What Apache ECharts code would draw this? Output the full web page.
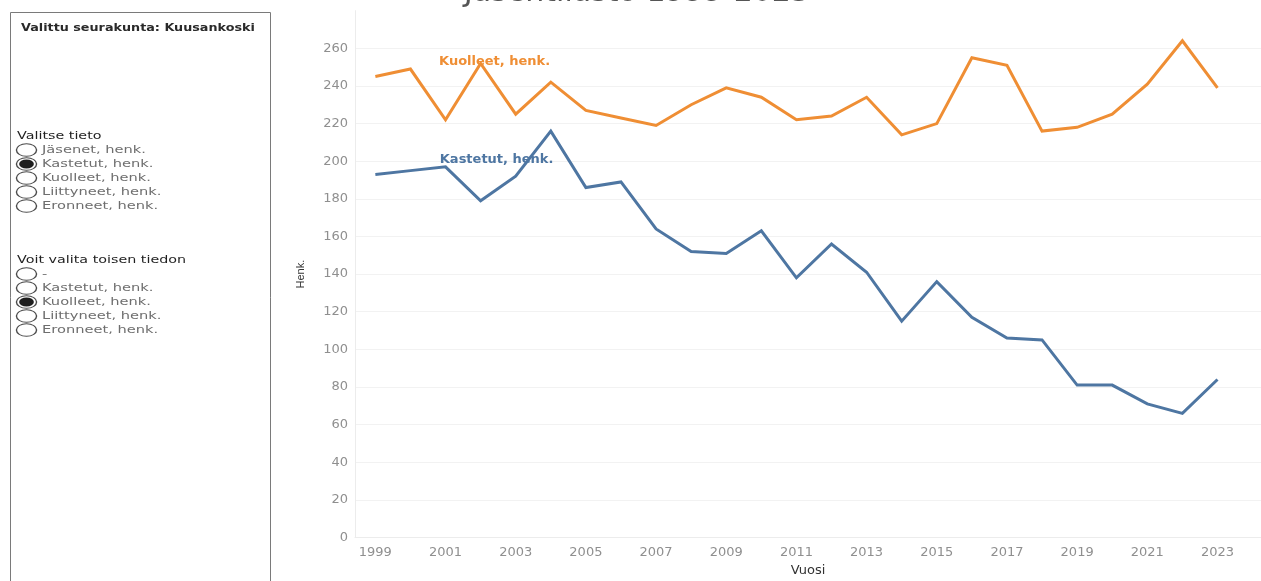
<!DOCTYPE html>
<html><head><meta charset="utf-8">
<script src="https://cdn.jsdelivr.net/npm/echarts@6/dist/echarts.min.js"></script>
<style>html,body{margin:0;padding:0;background:#fff;overflow:hidden}#c{width:1261px;height:581px}</style>
</head><body><div id="c"></div>
<script>
// ---- data ----
const years = [1999,2000,2001,2002,2003,2004,2005,2006,2007,2008,2009,2010,2011,2012,2013,2014,2015,2016,2017,2018,2019,2020,2021,2022,2023];
const kuolleet = [245,249,222,252,225,242,227,223,219,230,239,234,222,224,234,214,220,255,251,216,218,225,241,264,239];
const kastetut = [193,195,197,179,192,216,186,189,164,152,151,163,138,156,141,115,136,117,106,105,81,81,71,66,84];
const xTickLabels = [1999,2001,2003,2005,2007,2009,2011,2013,2015,2017,2019,2021,2023];
const seriesNames = ['Kuolleet, henk.', 'Kastetut, henk.'];
const titleText = 'Jäsentilasto 1999-2023';
const panelTitle = 'Valittu seurakunta: Kuusankoski';
const group1Title = 'Valitse tieto';
const group1 = ['Jäsenet, henk.','Kastetut, henk.','Kuolleet, henk.','Liittyneet, henk.','Eronneet, henk.'];
const group1Sel = 1;
const group2Title = 'Voit valita toisen tiedon';
const group2 = ['-','Kastetut, henk.','Kuolleet, henk.','Liittyneet, henk.','Eronneet, henk.'];
const group2Sel = 2;
const labelIndex = 3; // year 2002 anchors the line labels

// ---- styles ----
const ORANGE = '#ef8e34';
const BLUE = '#4e76a2';
const FONT = 'DejaVu Sans';

const chart = echarts.init(document.getElementById('c'), null, {renderer: 'canvas'});

function radioGroup(titleY, items, sel, title) {
  const els = [];
  els.push({type:'text', x:17, y:titleY, scaleX:1.3, style:{text:title, font:'11px "'+FONT+'"', fill:'#1f1f1f', verticalAlign:'middle', textAlign:'left'}});
  items.forEach((t, i) => {
    const cy = titleY + 14 + i*14;
    els.push({type:'circle', x:26.5, y:cy, scaleX:1.6, shape:{cx:0, cy:0, r:6.3}, style:{fill:'#fff', stroke:'#4a4a4a', lineWidth:0.9}});
    if (i === sel) {
      els.push({type:'circle', x:26.5, y:cy, scaleX:1.6, shape:{cx:0, cy:0, r:4.6}, style:{fill:'#1e1e1e'}});
    }
    els.push({type:'text', x:42, y:cy, scaleX:1.33, style:{text:t, font:'11px "'+FONT+'"', fill:'#6e6e6e', verticalAlign:'middle', textAlign:'left'}});
  });
  return els;
}

const graphics = [
  {type:'rect', shape:{x:10.5, y:12.5, width:260, height:600}, style:{fill:'none', stroke:'#7a7a7a', lineWidth:1}},
  {type:'text', x:21, y:28, scaleX:1.16, style:{text:panelTitle, font:'bold 11px "'+FONT+'"', fill:'#2a2a2a', verticalAlign:'middle', textAlign:'left'}},
  ...radioGroup(136, group1, group1Sel, group1Title),
  ...radioGroup(260, group2, group2Sel, group2Title),
  {type:'text', x:637, y:-6.5, style:{text:titleText, font:'30px "'+FONT+'"', fill:'#555', verticalAlign:'middle', textAlign:'center'}}
];

function lineSeries(name, vals, color, offset) {
  return {
    name: name,
    type: 'line',
    data: years.map((y, i) => [y, vals[i]]),
    symbol: 'none',
    lineStyle: {color: color, width: 3, join: 'miter'},
    itemStyle: {color: color},
    animation: false,
    silent: true,
    markPoint: {
      symbol: 'circle', symbolSize: 0.01, silent: true, animation: false,
      itemStyle: {color: 'rgba(0,0,0,0)'},
      data: [{coord: [years[labelIndex], vals[labelIndex]],
        label: {show: true, formatter: name, position: 'inside', offset: offset,
          color: color, fontFamily: FONT, fontSize: 13, fontWeight: 'bold'}}]
    }
  };
}

chart.setOption({
  backgroundColor: '#fff',
  animation: false,
  grid: {left: 355, right: 0, top: 10.7, bottom: 43.5, containLabel: false, outerBoundsMode: 'none'},
  xAxis: {
    type: 'value', min: 1998.42, max: 2024.24,
    name: 'Vuosi', nameLocation: 'middle', nameGap: 27,
    nameTextStyle: {color: '#333', fontFamily: FONT, fontSize: 13},
    axisLine: {show: true, lineStyle: {color: '#ececec', width: 1}},
    axisTick: {show: false},
    splitLine: {show: false},
    axisLabel: {customValues: xTickLabels, formatter: v => String(v), color: '#8f8f8f', fontFamily: FONT, fontSize: 13, margin: 9}
  },
  yAxis: {
    type: 'value', min: 0, max: 280, interval: 20,
    name: 'Henk.', nameLocation: 'middle', nameGap: 49,
    nameTextStyle: {color: '#333', fontFamily: 'Liberation Sans', fontSize: 11},
    axisLine: {show: true, lineStyle: {color: '#ececec', width: 1}},
    axisTick: {show: false},
    splitLine: {show: true, showMaxLine: false, lineStyle: {color: '#f2f2f2', width: 1}},
    axisLabel: {showMaxLabel: false, color: '#8f8f8f', fontFamily: FONT, fontSize: 13, margin: 7}
  },
  series: [
    lineSeries(seriesNames[0], kuolleet, ORANGE, [14, -2]),
    lineSeries(seriesNames[1], kastetut, BLUE, [16, -41])
  ],
  graphic: graphics
});
</script>
</body></html>
